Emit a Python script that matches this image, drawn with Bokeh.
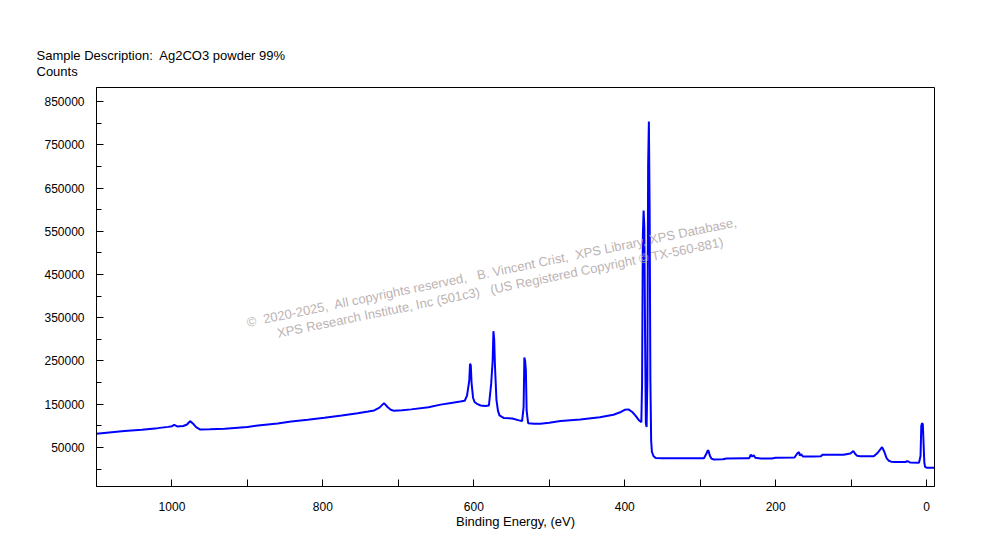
from bokeh.plotting import figure
from bokeh.models import Range1d, FixedTicker, BasicTickFormatter, Title, Label
from bokeh.embed import file_html
from bokeh.resources import INLINE

# ---- data ----
binding_energy = [1100, 1080, 1063, 1040, 1019, 1005, 1000, 997, 993, 985, 980, 976, 972, 968, 963,
                  950, 930, 900, 886, 860, 842, 820, 798, 775, 754, 740, 732, 725, 719, 714, 710,
                  706, 695, 683, 660, 644, 630, 618, 612, 609, 606, 605, 604, 603, 601, 599, 595, 591,
                  585, 580, 577, 575, 574, 573, 572, 570, 568, 566, 560, 549, 540, 536, 534, 533,
                  532, 531, 530, 528, 520, 512, 500, 485, 459, 433, 415, 405, 400, 395, 390, 386,
                  381, 379, 378, 377, 376, 375, 374, 373, 372, 371, 370, 369, 368, 367, 366, 365,
                  364, 362, 359, 350, 320, 295, 291, 290, 289, 287, 285, 282, 270, 265, 240, 235,
                  233, 231, 229, 227, 220, 205, 200, 175, 171, 169, 168, 166, 164, 150, 140, 138,
                  110, 101, 97, 95, 92, 88, 70, 65, 59, 56, 53, 50, 47, 42, 28, 26, 24, 22, 10,
                  8, 7, 6, 5, 4, 3, 2, 0, -10]
counts = [81500, 85000, 87700, 91000, 94600, 97500, 99000, 102000, 98500, 99500, 103000, 111000,
          105000, 97000, 91600, 91800, 93200, 97000, 100800, 105500, 110000, 114000, 118600,
          124000, 129300, 133000, 135500, 142000, 152400, 143000, 137000, 135000, 136000, 138000,
          143000, 149000, 153000, 156000, 158000, 170000, 205000, 243500, 240000, 200000, 165000,
          155000, 150000, 147000, 146000, 147000, 197000, 251000, 319000, 300000, 240000, 160000,
          135000, 124000, 118000, 117000, 112500, 111000, 143000, 258000, 250000, 228000, 135000,
          106000, 105000, 105000, 107000, 111000, 114700, 120000, 125600, 132000, 137000, 138000,
          132000, 124000, 112400, 110000, 108000, 200000, 540000, 598000, 560000, 300000, 105000,
          97000, 205000, 700000, 804000, 600000, 205000, 66000, 40000, 30000, 25300, 25000, 25000,
          25000, 38000, 43000, 42000, 30000, 24000, 22000, 22500, 24500, 25000, 25000, 33000,
          29000, 32000, 26000, 24500, 24500, 26000, 26500, 37000, 39000, 31000, 34000, 29000,
          29000, 29500, 33000, 33000, 36000, 41500, 36000, 30500, 29500, 29500, 37000, 50700,
          40000, 25000, 19000, 17000, 16000, 16000, 18000, 17500, 15000, 14700, 30000, 100000,
          106000, 104000, 60000, 15000, 5000, 3000, 3000]

x_major = [1000, 800, 600, 400, 200, 0]
x_minor = [900, 700, 500, 300, 100]
y_major = [50000, 150000, 250000, 350000, 450000, 550000, 650000, 750000, 850000]
y_minor = [0, 100000, 200000, 300000, 400000, 500000, 600000, 700000, 800000]

NB = "\u00a0"
title_text = "Sample Description:" + NB + " Ag2CO3 powder 99%\nCounts"
x_label = "Binding Energy, (eV)"
wm_line1 = ("\u00a9" + NB + " 2020-2025," + NB + " All copyrights reserved," + NB + NB +
            " B. Vincent Crist," + NB + " XPS Library, XPS Database,")
wm_line2 = ("XPS Research Institute, Inc (501c3)" + NB + NB +
            " (US Registered Copyright \u00a9 TX-560-881)")

FONT = "Liberation Sans"

p = figure(width=975, height=540, output_backend="svg", toolbar_location=None,
           x_range=Range1d(1100, -10.5), y_range=Range1d(-40500, 883000),
           min_border_left=96, min_border_right=41, min_border_top=87, min_border_bottom=54)
p.background_fill_color = "white"
p.border_fill_color = "white"
p.outline_line_color = "black"
p.outline_line_width = 1
p.grid.visible = False

p.line(binding_energy, counts, line_color="#0000ff", line_width=2)

# axes
for ax in (p.xaxis[0], p.yaxis[0]):
    ax.axis_line_color = "black"
    ax.major_tick_line_color = "black"
    ax.minor_tick_line_color = "black"
    ax.major_tick_out = 0
    ax.minor_tick_out = 0
    ax.major_tick_in = 7
    ax.major_label_text_font = FONT
    ax.major_label_text_font_size = "12px"
    ax.major_label_text_color = "black"

p.xaxis.ticker = FixedTicker(ticks=x_major, minor_ticks=x_minor)
p.xaxis.minor_tick_in = 7
p.xaxis.major_label_standoff = 15
p.xaxis.axis_label = x_label
p.xaxis.axis_label_text_font = FONT
p.xaxis.axis_label_text_font_size = "13px"
p.xaxis.axis_label_text_font_style = "normal"
p.xaxis.axis_label_text_color = "black"
p.xaxis.axis_label_standoff = 0

p.yaxis.ticker = FixedTicker(ticks=y_major, minor_ticks=y_minor)
p.yaxis.formatter = BasicTickFormatter(use_scientific=False)
p.yaxis.minor_tick_in = 5
p.yaxis.major_label_standoff = 12

# title (two lines)
t = Title(text=title_text, align="left", offset=-60, text_font=FONT, text_font_size="13px",
          text_font_style="normal", text_color="black", standoff=18, text_line_height=1.05)
p.add_layout(t, "above")

# watermark
ang = 0.2025
for txt, bx, cy in ((wm_line1, 900.7, 339000), (wm_line2, 860.5, 314000)):
    p.add_layout(Label(x=bx, y=cy, text=txt, angle=ang, text_font=FONT, text_font_size="13px",
                       text_color="#bcb3b3", text_align="left", text_baseline="middle"))

open("out.html", "w").write(file_html(p, INLINE))
